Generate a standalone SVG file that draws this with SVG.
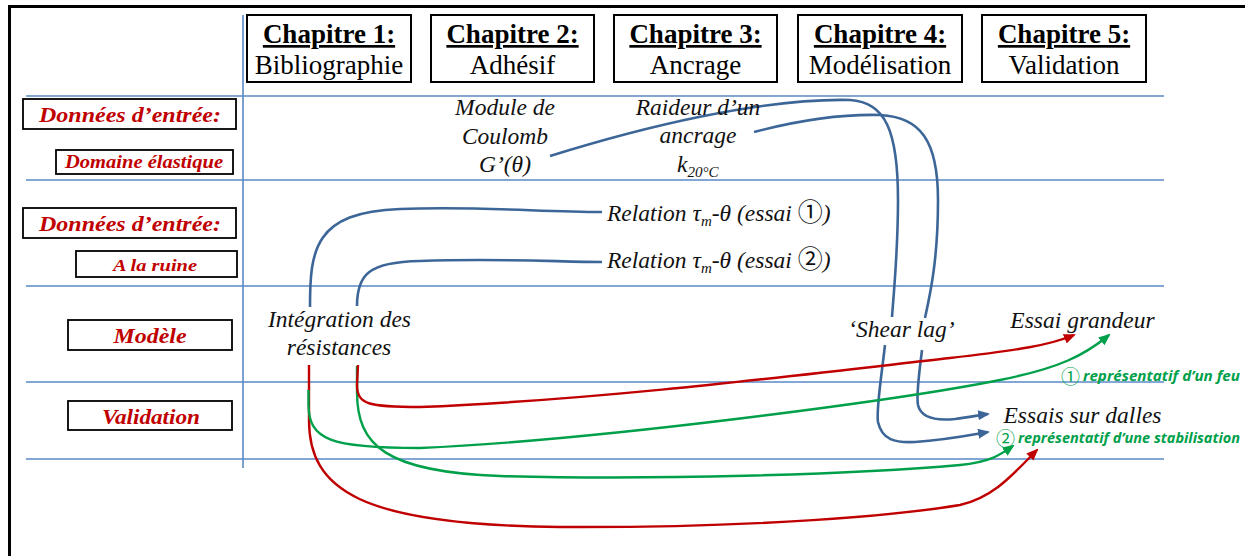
<svg xmlns="http://www.w3.org/2000/svg" width="1245" height="556" viewBox="0 0 1245 556">
  <defs>
    <marker id="arrBlue" viewBox="0 0 12 10" refX="10" refY="5" markerWidth="12" markerHeight="10" markerUnits="userSpaceOnUse" orient="auto">
      <path d="M0,0 L12,5 L0,10 z" fill="#3D6698"/>
    </marker>
    <marker id="arrRed" viewBox="0 0 12 10" refX="10" refY="5" markerWidth="12" markerHeight="10" markerUnits="userSpaceOnUse" orient="auto">
      <path d="M0,0 L12,5 L0,10 z" fill="#C00000"/>
    </marker>
    <marker id="arrGreen" viewBox="0 0 12 10" refX="10" refY="5" markerWidth="12" markerHeight="10" markerUnits="userSpaceOnUse" orient="auto">
      <path d="M0,0 L12,5 L0,10 z" fill="#00A04A"/>
    </marker>
  </defs>
  <style>
    .grid { stroke: #5A8AC6; stroke-width: 1.6; fill: none; }
    .frame { stroke: #000; stroke-width: 3; fill: none; }
    .hbox { fill: #fff; stroke: #000; stroke-width: 2; }
    .lbox { fill: #fff; stroke: #000; stroke-width: 1.8; }
    .htitle { font-family: "Liberation Serif", serif; font-size: 27px; font-weight: bold; text-decoration: underline; text-anchor: middle; fill: #000; }
    .hsub { font-family: "Liberation Serif", serif; font-size: 27px; text-anchor: middle; fill: #000; }
    .lab { font-family: "Liberation Serif", serif; font-weight: bold; font-style: italic; fill: #C00000; text-anchor: middle; }
    .it { font-family: "Liberation Serif", serif; font-style: italic; font-size: 23.5px; fill: #111; }
    .circ { font-family: "Noto Sans CJK JP", "DejaVu Sans", sans-serif; font-style: normal; }
    .gr { font-family: "Open Sans", "Liberation Sans", sans-serif; font-weight: bold; font-style: italic; font-size: 14px; fill: #00A04A; }
    .gc { font-family: "Noto Sans CJK JP", "DejaVu Sans", sans-serif; font-size: 19px; fill: #00A04A; }
    .cb { stroke: #3D6698; stroke-width: 2.6; fill: none; }
    .cr { stroke: #C00000; stroke-width: 2.4; fill: none; }
    .cg { stroke: #00A04A; stroke-width: 2.4; fill: none; }
  </style>

  <rect x="0" y="0" width="1245" height="556" fill="#fff"/>

  <!-- outer frame -->
  <path class="frame" d="M9.5,556 L9.5,6.5 L1245,6.5"/>

  <!-- table grid -->
  <g id="grid">
    <line class="grid" x1="243" y1="15" x2="243" y2="468"/>
    <line class="grid" x1="26" y1="96" x2="1164" y2="96"/>
    <line class="grid" x1="26" y1="180" x2="1164" y2="180"/>
    <line class="grid" x1="26" y1="286" x2="1164" y2="286"/>
    <line class="grid" x1="26" y1="382" x2="1164" y2="382"/>
    <line class="grid" x1="26" y1="459" x2="1164" y2="459"/>
  </g>

  <!-- chapter headers -->
  <g id="ch1">
    <rect class="hbox" x="247" y="15" width="164" height="67"/>
    <text class="htitle" x="329" y="43">Chapitre 1:</text>
    <text class="hsub" x="329" y="74">Bibliographie</text>
  </g>
  <g id="ch2">
    <rect class="hbox" x="431" y="15" width="163" height="67"/>
    <text class="htitle" x="512.5" y="43">Chapitre 2:</text>
    <text class="hsub" x="512.5" y="74">Adhésif</text>
  </g>
  <g id="ch3">
    <rect class="hbox" x="614" y="15" width="163" height="67"/>
    <text class="htitle" x="695.5" y="43">Chapitre 3:</text>
    <text class="hsub" x="695.5" y="74">Ancrage</text>
  </g>
  <g id="ch4">
    <rect class="hbox" x="798" y="15" width="164" height="67"/>
    <text class="htitle" x="880" y="43">Chapitre 4:</text>
    <text class="hsub" x="880" y="74">Modélisation</text>
  </g>
  <g id="ch5">
    <rect class="hbox" x="982" y="15" width="164" height="67"/>
    <text class="htitle" x="1064" y="43">Chapitre 5:</text>
    <text class="hsub" x="1064" y="74">Validation</text>
  </g>

  <!-- row labels -->
  <g id="row-entree-elastique">
    <rect class="lbox" x="23" y="99" width="213" height="30"/>
    <text class="lab" x="130" y="122" font-size="21" textLength="182" lengthAdjust="spacingAndGlyphs">Données d’entrée:</text>
    <rect class="lbox" x="56" y="150" width="177" height="24"/>
    <text class="lab" x="144" y="168" font-size="18" textLength="158" lengthAdjust="spacingAndGlyphs">Domaine élastique</text>
  </g>
  <g id="row-entree-ruine">
    <rect class="lbox" x="23" y="208" width="213" height="30"/>
    <text class="lab" x="130" y="231" font-size="21" textLength="182" lengthAdjust="spacingAndGlyphs">Données d’entrée:</text>
    <rect class="lbox" x="76" y="251" width="161" height="26"/>
    <text class="lab" x="155" y="271" font-size="17" textLength="84" lengthAdjust="spacingAndGlyphs">A la ruine</text>
  </g>
  <g id="row-modele">
    <rect class="lbox" x="68" y="320" width="164" height="30"/>
    <text class="lab" x="150" y="343" font-size="21" textLength="73" lengthAdjust="spacingAndGlyphs">Modèle</text>
  </g>
  <g id="row-validation">
    <rect class="lbox" x="68" y="401" width="164" height="29"/>
    <text class="lab" x="151" y="424" font-size="21" textLength="98" lengthAdjust="spacingAndGlyphs">Validation</text>
  </g>

  <!-- connectors -->
  <g id="connectors">
    <!-- Module de Coulomb -> Shear lag -> Essais sur dalles -->
    <path class="cb" marker-end="url(#arrBlue)" d="M550,156 C640,128 760,98 850,100 C885,102 898,130 898,200 C898,250 894,290 892,317 M885,345 C881,380 876,410 878,422 C882,440 895,443 915,442 C945,440 965,436 988,432"/>
    <!-- Raideur d'un ancrage -> Shear lag -> Essais sur dalles -->
    <path class="cb" marker-end="url(#arrBlue)" d="M754,132 C800,120 840,114 880,115 C920,117 938,140 938,200 C938,260 930,295 925,318 M922,350 C919,375 916,395 918,405 C921,418 935,421 955,419 C970,417 980,415 988,414"/>
    <!-- Relation essai 1 / essai 2 -> Intégration des résistances -->
    <path class="cb" d="M310,307 C310,250 314,212 400,209 C480,206 540,212 602,212"/>
    <path class="cb" d="M357,306 C357,275 368,262 420,261 C500,258 560,262 602,262"/>

    <!-- Intégration des résistances -> essais -->
    <path class="cg" marker-end="url(#arrGreen)" d="M357,366 L357,392 C357,445 385,472 500,476 C650,480 850,475 960,465 C990,462 1000,455 1013,446"/>
    <path class="cr" marker-end="url(#arrRed)" d="M309,365 L309,420 C309,490 360,525 560,527 C760,528 900,515 960,505 C995,497 1015,472 1037,450"/>
    <path class="cr" marker-end="url(#arrRed)" d="M358,365 L357,385 C357,405 370,407 420,407 C600,400 800,375 950,358 C1020,350 1050,345 1074,335"/>
    <path class="cg" marker-end="url(#arrGreen)" d="M308.5,390 L308.5,405 C309,440 330,448 420,448 C600,440 900,400 1000,380 C1060,368 1085,355 1109,335"/>
  </g>

  <!-- content nodes -->
  <g id="module-coulomb">
    <text class="it" x="505" y="115" text-anchor="middle">Module de</text>
    <text class="it" x="505" y="144" text-anchor="middle">Coulomb</text>
    <text class="it" x="505" y="172" text-anchor="middle">G’(θ)</text>
  </g>
  <g id="raideur-ancrage">
    <text class="it" x="698" y="115" text-anchor="middle">Raideur d’un</text>
    <text class="it" x="698" y="143" text-anchor="middle">ancrage</text>
    <text class="it" x="677" y="172">k<tspan font-size="15" dy="5">20°C</tspan></text>
  </g>
  <g id="relation-1">
    <text class="it" x="607" y="221">Relation τ<tspan font-size="15" dy="5">m</tspan><tspan dy="-5">-θ (essai </tspan><tspan class="circ" font-size="25">①</tspan>)</text>
  </g>
  <g id="relation-2">
    <text class="it" x="607" y="268">Relation τ<tspan font-size="15" dy="5">m</tspan><tspan dy="-5">-θ (essai </tspan><tspan class="circ" font-size="25">②</tspan>)</text>
  </g>
  <g id="integration">
    <text class="it" x="339.5" y="327" text-anchor="middle">Intégration des</text>
    <text class="it" x="339" y="355" text-anchor="middle">résistances</text>
  </g>
  <g id="shear-lag">
    <text class="it" x="901.5" y="337" text-anchor="middle">‘Shear lag’</text>
  </g>
  <g id="essai-grandeur">
    <text class="it" x="1082.5" y="328" text-anchor="middle">Essai grandeur</text>
  </g>
  <g id="essais-dalles">
    <text class="it" x="1082.5" y="423" text-anchor="middle">Essais sur dalles</text>
  </g>
  <g id="note-feu">
    <text class="gc" x="1061" y="384">①</text>
    <text class="gr" x="1083" y="381" textLength="157" lengthAdjust="spacingAndGlyphs">représentatif d’un feu</text>
  </g>
  <g id="note-stabilisation">
    <text class="gc" x="996" y="446">②</text>
    <text class="gr" x="1018" y="443" textLength="222" lengthAdjust="spacingAndGlyphs">représentatif d’une stabilisation</text>
  </g>
</svg>
